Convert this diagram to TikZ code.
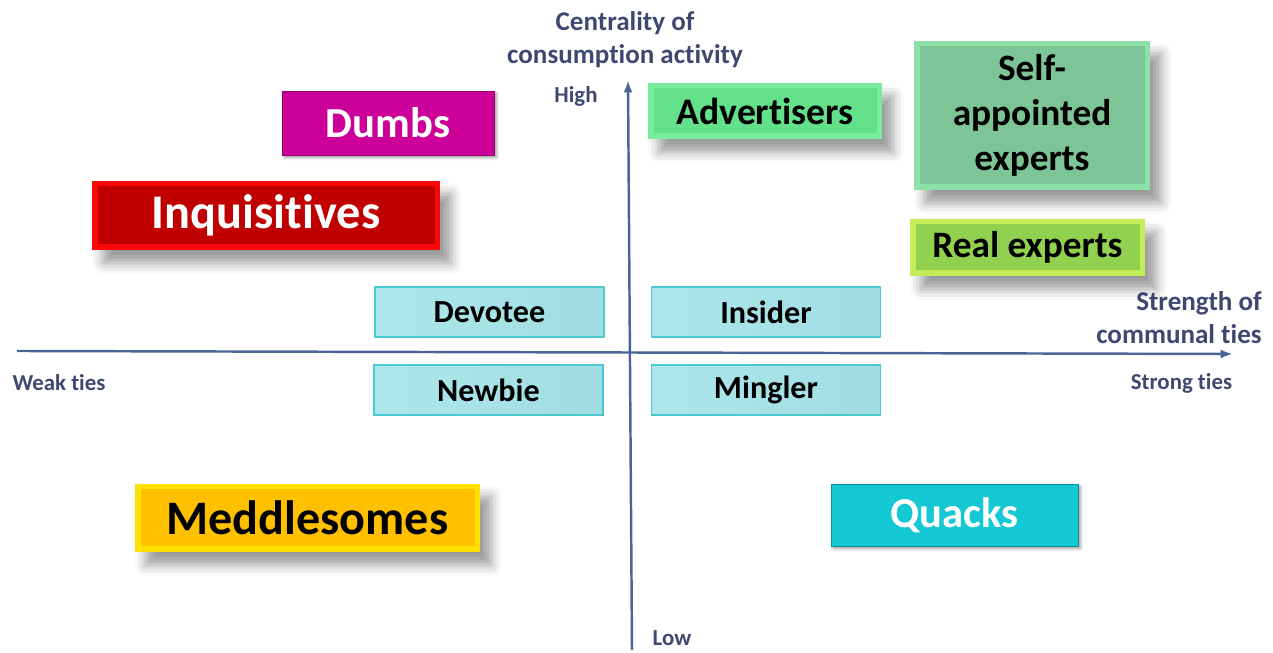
\documentclass[tikz,border=0pt]{standalone}
\usepackage{fontspec}
\setmainfont{Carlito}[Ligatures=NoCommon]
\usetikzlibrary{arrows.meta,shadows.blur}

\definecolor{axisblue}{HTML}{4A6496}
\definecolor{labelblue}{HTML}{3E4870}
\definecolor{dumbcol}{HTML}{CC0099}
\definecolor{inqedge}{HTML}{F80808}
\definecolor{inqmain}{HTML}{C00000}
\definecolor{advedge}{HTML}{78EE9C}
\definecolor{advmain}{HTML}{62E08A}
\definecolor{selfedge}{HTML}{8CE0A8}
\definecolor{selfmain}{HTML}{7DC496}
\definecolor{realedge}{HTML}{C4EC58}
\definecolor{realmain}{HTML}{92D050}
\definecolor{medledge}{HTML}{FFE000}
\definecolor{medlmain}{HTML}{FFC000}
\definecolor{quackcol}{HTML}{14C9D3}
\definecolor{tieleft}{HTML}{ADE7EC}
\definecolor{tieright}{HTML}{A0DDE2}
\definecolor{tieedge}{HTML}{4CC9D0}

\tikzset{
	bevel/.style 2 args={rectangle, fill=#1, inner sep=0pt, font=\bfseries,
		blur shadow={shadow xshift=0.22cm, shadow yshift=-0.26cm, shadow blur radius=0.22cm, shadow opacity=40},
		path picture={\fill[#2] ([shift={(0.11,0.11)}]path picture bounding box.south west) rectangle ([shift={(-0.11,-0.11)}]path picture bounding box.north east);}},
	flatbox/.style={rectangle, fill=#1, draw=#1!70!black, line width=0.4pt, inner sep=0pt, font=\bfseries,
		blur shadow={shadow xshift=0.05cm, shadow yshift=-0.05cm, shadow blur radius=0.06cm, shadow opacity=40}},
	tiebox/.style={rectangle, left color=tieleft, right color=tieright, draw=tieedge, line width=0.8pt,
		minimum width=4.58cm, minimum height=1cm, inner sep=0pt, font=\bfseries\fontsize{18.3}{22}\selectfont},
	axislabel/.style={text=labelblue, font=\bfseries\fontsize{15.4}{18.7}\selectfont, align=center, inner sep=0pt},
	endlabel/.style={text=labelblue, font=\bfseries\fontsize{13}{16}\selectfont, inner sep=0pt},
}

\begin{document}
\begin{tikzpicture}
	
	\useasboundingbox (0,0) rectangle (25.46,13.06);
	
	%Axes
	\coordinate (Weak End) at (0.34,6.04);
	\coordinate (Strong End) at (24.66,5.98);
	\coordinate (Low End) at (12.64,0.06);
	\coordinate (High End) at (12.56,11.46);
	\draw [axisblue, line width=1.4pt, -{Latex[length=7pt,width=5pt]}] (Weak End) -- (Strong End);
	\draw [axisblue, line width=1.4pt, -{Latex[length=7pt,width=5pt]}] (Low End) -- (High End);
	
	%Axis labels
	\node (Centrality) at (12.5,12.26) [axislabel]{Centrality of\\consumption activity};
	\node (Strength) at (25.24,6.7) [axislabel, align=right, anchor=east]{Strength of\\communal ties};
	\node (High) at (11.52,11.14) [endlabel]{High};
	\node (Low) at (13.44,0.3) [endlabel]{Low};
	\node (Weak Ties) at (1.18,5.4) [endlabel]{Weak ties};
	\node (Strong Ties) at (23.63,5.4) [endlabel]{Strong ties};
	
	%Upper left quadrant
	\node (Dumbs) at (7.76,10.6) [flatbox=dumbcol, minimum width=4.24cm, minimum height=1.28cm, text=white, font=\bfseries\fontsize{24.3}{29}\selectfont]{Dumbs};
	\node (Inquisitives) at (5.32,8.75) [bevel={inqedge}{inqmain}, minimum width=6.96cm, minimum height=1.38cm, text=white, font=\bfseries\fontsize{27.5}{33}\selectfont]{Inquisitives};
	
	%Upper right quadrant
	\node (Advertisers) at (15.3,10.84) [bevel={advedge}{advmain}, minimum width=4.68cm, minimum height=1.12cm, font=\bfseries\fontsize{21.4}{26}\selectfont]{Advertisers};
	\node (Self Appointed) at (20.64,10.75) [bevel={selfedge}{selfmain}, minimum width=4.72cm, minimum height=2.98cm, align=center, font=\bfseries\fontsize{21.2}{25.5}\selectfont]{Self-\\appointed\\experts};
	\node (Real Experts) at (20.55,8.11) [bevel={realedge}{realmain}, minimum width=4.7cm, minimum height=1.14cm, font=\bfseries\fontsize{21.2}{26}\selectfont]{Real experts};
	
	%Members around the crossing
	\node (Devotee) at (9.79,6.82) [tiebox]{Devotee};
	\node (Insider) at (15.32,6.82) [tiebox]{Insider};
	\node (Newbie) at (9.77,5.26) [tiebox]{Newbie};
	\node (Mingler) at (15.32,5.26) [tiebox]{Mingler};
	
	%Lower quadrants
	\node (Meddlesomes) at (6.15,2.7) [bevel={medledge}{medlmain}, minimum width=6.9cm, minimum height=1.36cm, font=\bfseries\fontsize{27.4}{33}\selectfont]{Meddlesomes};
	\node (Quacks) at (19.09,2.76) [flatbox=quackcol, minimum width=4.94cm, minimum height=1.24cm, text=white, font=\bfseries\fontsize{24.2}{29}\selectfont]{Quacks};
	
\end{tikzpicture}
\end{document}
